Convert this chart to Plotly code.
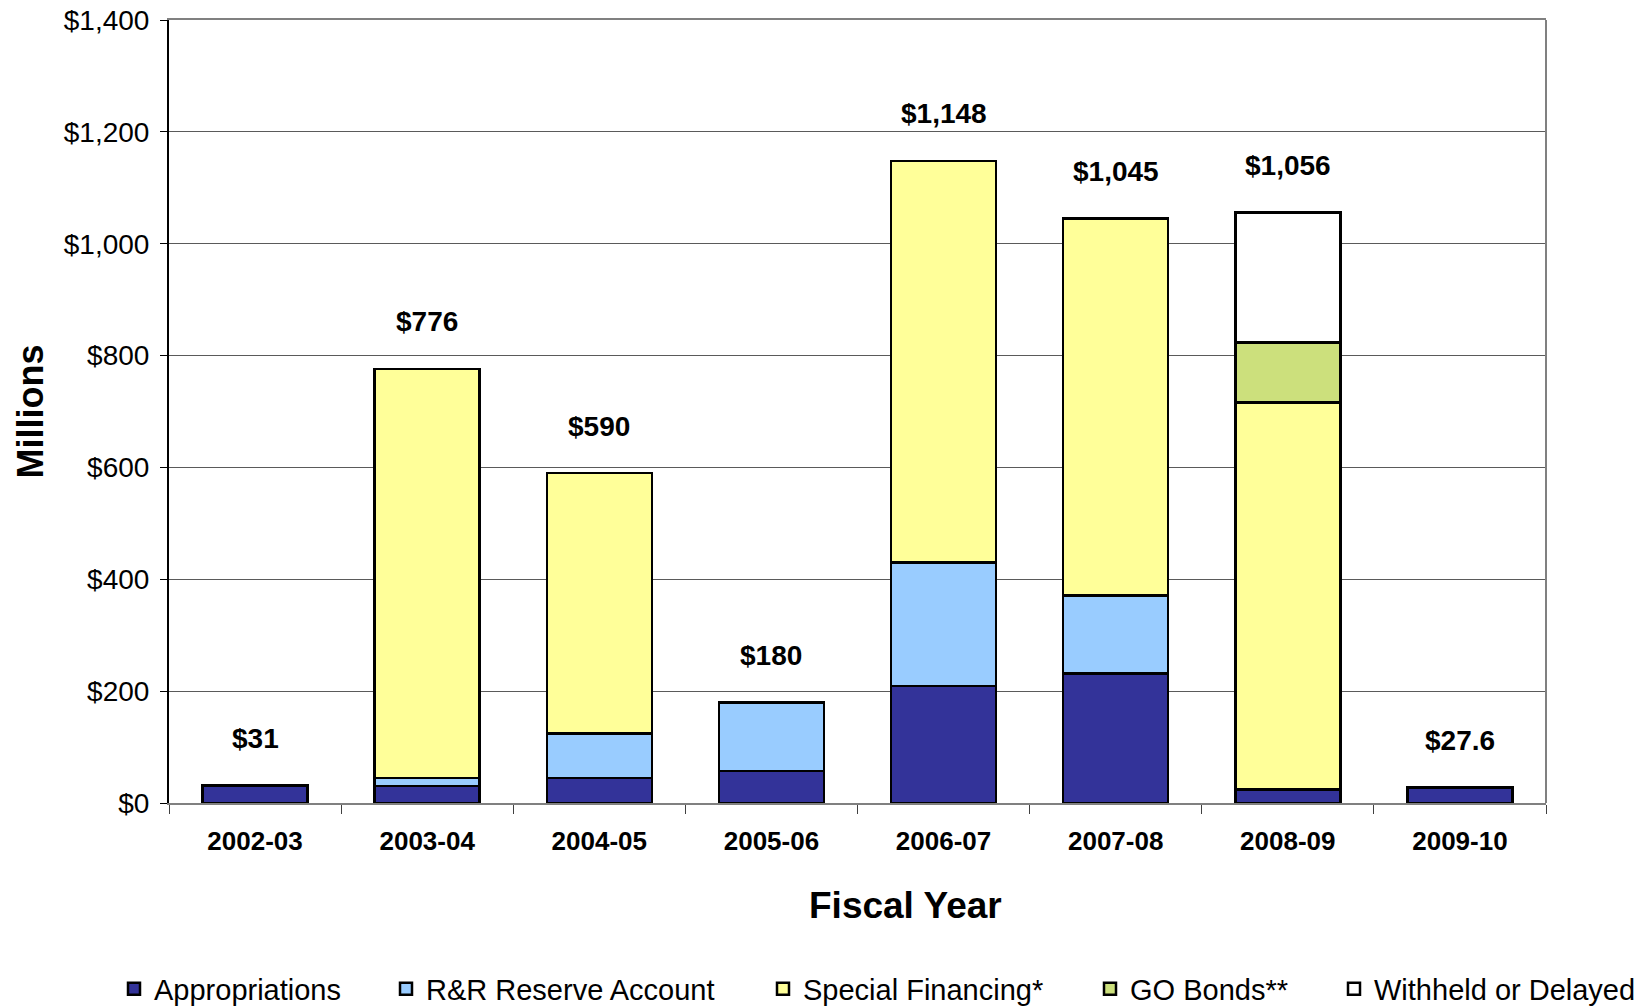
import plotly.graph_objects as go

years = ["2002-03", "2003-04", "2004-05", "2005-06", "2006-07", "2007-08", "2008-09", "2009-10"]
appropriations = [31, 30, 45, 57, 209, 232, 24, 27.6]
rr_reserve = [0, 15, 79, 123, 221, 139, 0, 0]
special_financing = [0, 731, 466, 0, 718, 674, 692, 0]
go_bonds = [0, 0, 0, 0, 0, 0, 107, 0]
withheld = [0, 0, 0, 0, 0, 0, 233, 0]
total_labels = ["$31", "$776", "$590", "$180", "$1,148", "$1,045", "$1,056", "$27.6"]

series = [
    ("Appropriations", appropriations, "#333399"),
    ("R&R Reserve Account", rr_reserve, "#99CCFF"),
    ("Special Financing*", special_financing, "#FFFF99"),
    ("GO Bonds**", go_bonds, "#CCE07C"),
    ("Withheld or Delayed", withheld, "#FFFFFF"),
]

FONT = "Liberation Sans"
legend_ids = ["legend", "legend2", "legend3", "legend4", "legend5"]
legend_x = [114, 386, 763, 1090, 1334]

fig = go.Figure()
for (name, vals, color), lid in zip(series, legend_ids):
    fig.add_trace(go.Bar(
        x=years, y=vals, name=name, legend=lid,
        width=0.61, showlegend=True,
        marker=dict(color=color, line=dict(color="black", width=2.5)),
        hoverinfo="x+y+name",
    ))

totals = [sum(v) for v in zip(appropriations, rr_reserve, special_financing, go_bonds, withheld)]
for yr, tot, lab in zip(years, totals, total_labels):
    fig.add_annotation(x=yr, y=tot, text=lab, showarrow=False, yshift=47,
                       yanchor="middle",
                       font=dict(family=FONT, size=28, color="black", weight="bold"))

# x-axis title (offset to the right of centre, as in the original)
fig.add_annotation(text="Fiscal Year", xref="paper", yref="paper", x=0.535, y=-0.1315,
                   xanchor="center", yanchor="middle", showarrow=False,
                   font=dict(family=FONT, size=37, color="black", weight="bold"))

layout_legends = {}
for lid, lx in zip(legend_ids, legend_x):
    layout_legends[lid] = dict(
        orientation="h", xref="container", yref="container",
        x=lx / 1652, y=1 - 989 / 1008, xanchor="left", yanchor="middle",
        font=dict(family=FONT, size=29, color="black"),
        bgcolor="rgba(0,0,0,0)", visible=True,
    )

fig.update_layout(
    width=1652, height=1008,
    barmode="stack",
    paper_bgcolor="white", plot_bgcolor="white",
    margin=dict(l=169, r=106, t=20, b=205),
    font=dict(family=FONT, color="black"),
    **layout_legends,
)

fig.update_yaxes(
    range=[0, 1400], dtick=200, tickprefix="$", tickformat=",d",
    tickfont=dict(family=FONT, size=28, color="black"),
    showgrid=True, gridcolor="#5a5a5a", gridwidth=1,
    showline=True, linecolor="black", linewidth=2,
    ticks="outside", ticklen=7, tickcolor="black", tickwidth=1,
    ticklabelstandoff=5, automargin=False,
    zeroline=False,
    title=dict(text="Millions", font=dict(family=FONT, size=36, weight="bold"), standoff=9),
)
fig.update_xaxes(
    type="category",
    tickfont=dict(family=FONT, size=26, color="black", weight="bold"),
    showline=True, linecolor="#808080", linewidth=2, mirror=True,
    ticks="outside", tickson="boundaries", ticklen=9, tickcolor="#404040", tickwidth=1,
    ticklabelstandoff=14,
    showgrid=False, automargin=False,
)
fig.add_shape(type="line", xref="paper", yref="paper", x0=1, x1=1, y0=0, y1=1,
              line=dict(color="#808080", width=2))

fig.write_html("out.html")
